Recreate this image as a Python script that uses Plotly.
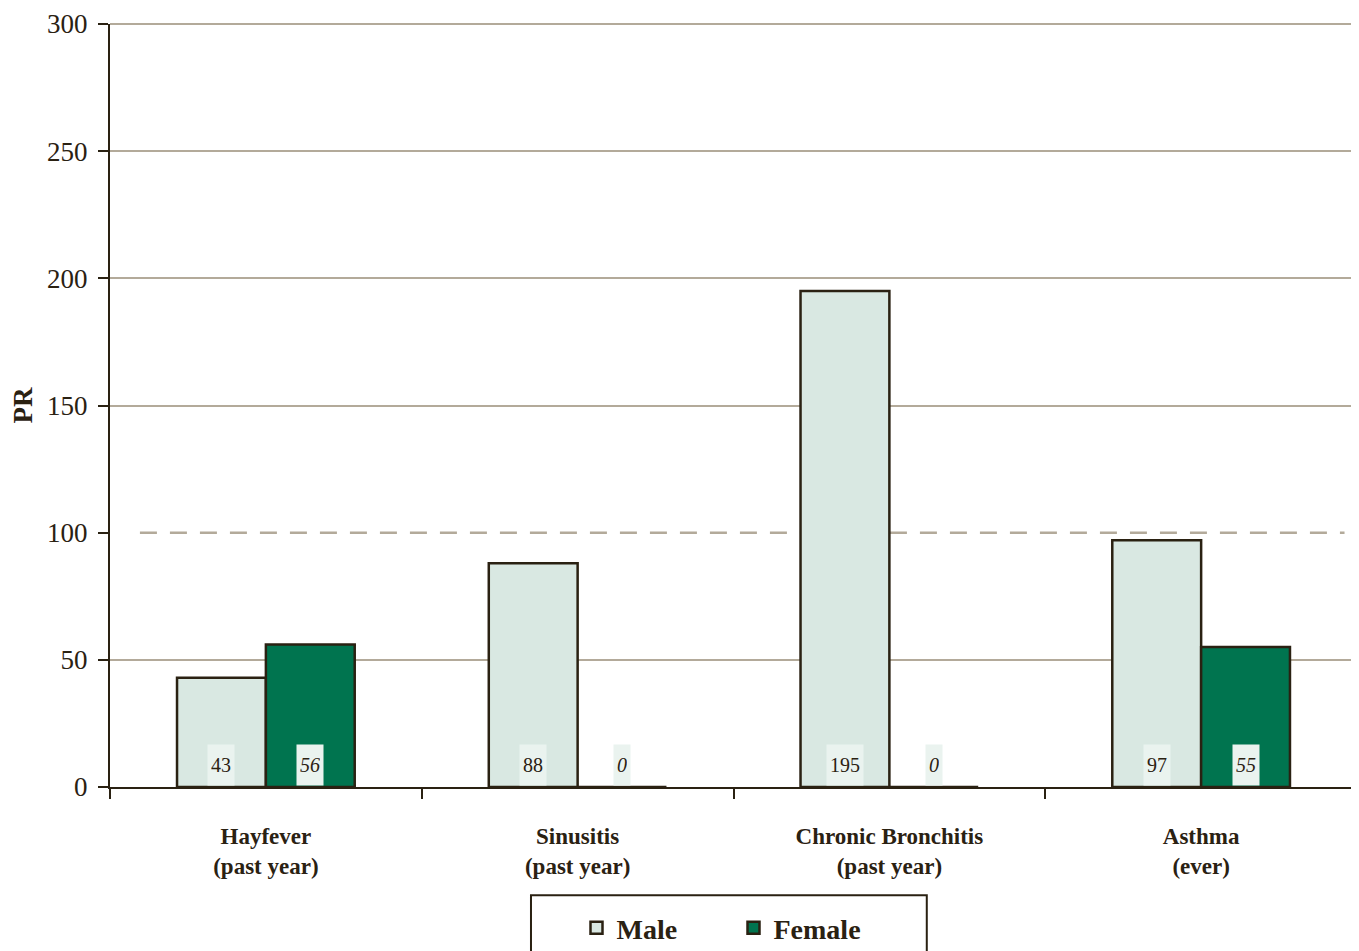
import plotly.graph_objects as go

categories = ["Hayfever<br>(past year)", "Sinusitis<br>(past year)",
              "Chronic Bronchitis<br>(past year)", "Asthma<br>(ever)"]
male = [43, 88, 195, 97]
female = [56, 0, 0, 55]
y_ticks = [0, 50, 100, 150, 200, 250, 300]
grid_ticks = [50, 150, 200, 250]
reference_level = 100

SERIF = "Liberation Serif"
DARK = "#2a2112"
GRID = "#b3aa9a"
MALE_C = "#d9e8e2"
FEMALE_C = "#00744f"
LABEL_BG = "#eaf3ef"

fig = go.Figure()
fig.add_trace(go.Bar(name="Male", x=categories, y=male,
                     marker=dict(color=MALE_C, line=dict(color=DARK, width=2.5))))
fig.add_trace(go.Bar(name="Female", x=categories, y=female,
                     marker=dict(color=FEMALE_C, line=dict(color=DARK, width=2.5))))

# value labels near the base of each bar
for cat, m, f in zip(categories, male, female):
    fig.add_annotation(x=cat, y=0, xref="x", yref="y", text=str(m), showarrow=False,
                       xshift=-44.5, yshift=1, yanchor="bottom", height=34, borderpad=3,
                       bgcolor=LABEL_BG, font=dict(family=SERIF, size=20, color=DARK))
    fig.add_annotation(x=cat, y=0, xref="x", yref="y", text="<i>%d</i>" % f, showarrow=False,
                       xshift=44.5, yshift=1, yanchor="bottom", height=34, borderpad=3,
                       bgcolor=LABEL_BG, font=dict(family=SERIF, size=20, color=DARK))

# dashed reference line (under the bars)
fig.add_shape(type="line", xref="paper", yref="y", x0=0.024, x1=0.99,
              y0=reference_level, y1=reference_level,
              line=dict(color=GRID, width=2.5, dash="17px,13px"), layer="below")
# top and right border of plot area
fig.add_shape(type="line", xref="paper", yref="paper", x0=0, x1=1, y0=1, y1=1,
              line=dict(color=GRID, width=2), layer="below")
fig.add_shape(type="line", xref="paper", yref="paper", x0=1, x1=1, y0=0, y1=1,
              line=dict(color=GRID, width=2), layer="below")
# legend box
fig.add_shape(type="rect", xref="paper", yref="paper", x0=0.3376, x1=0.655, y0=-0.1418, y1=-0.25,
              line=dict(color=DARK, width=2), fillcolor="white", layer="above")

fig.update_layout(
    width=1351, height=943,
    margin=dict(l=102, r=2, t=16, b=164, autoexpand=False),
    paper_bgcolor="white", plot_bgcolor="white",
    barmode="group", bargap=0.43, bargroupgap=0,
    font=dict(family=SERIF, color=DARK),
    showlegend=True,
    legend=dict(orientation="h", x=0.5, xanchor="center", y=-0.152, yanchor="top",
                font=dict(family=SERIF, size=28, color=DARK, weight="bold"),
                bgcolor="rgba(0,0,0,0)", entrywidth=112),
    xaxis=dict(showline=True, linecolor=DARK, linewidth=2, ticks="outside", tickson="boundaries",
               ticklen=10, tickwidth=2, tickcolor=DARK, showgrid=False, ticklabelstandoff=27,
               automargin=False,
               tickfont=dict(family=SERIF, size=23, color=DARK, weight="bold")),
    yaxis=dict(range=[0, 300], tickvals=y_ticks, showline=True, linecolor=DARK, linewidth=2,
               ticks="outside", ticklen=10, tickwidth=2, tickcolor=DARK,
               showgrid=False, zeroline=False, ticklabelstandoff=5, automargin=False,
               tickfont=dict(family=SERIF, size=27, color=DARK),
               title=dict(text="<b>PR</b>", font=dict(family=SERIF, size=27, color=DARK), standoff=12)),
    yaxis2=dict(range=[0, 300], overlaying="y", side="left", tickvals=grid_ticks,
                showgrid=True, gridcolor=GRID, gridwidth=2, showticklabels=False,
                showline=False, ticks="", zeroline=False),
)
# invisible helper trace so the gridline axis is drawn
fig.add_trace(go.Scatter(x=[categories[0]], y=[0], yaxis="y2", mode="markers",
                         marker=dict(opacity=0), showlegend=False, hoverinfo="skip"))

fig.write_html("out.html")
